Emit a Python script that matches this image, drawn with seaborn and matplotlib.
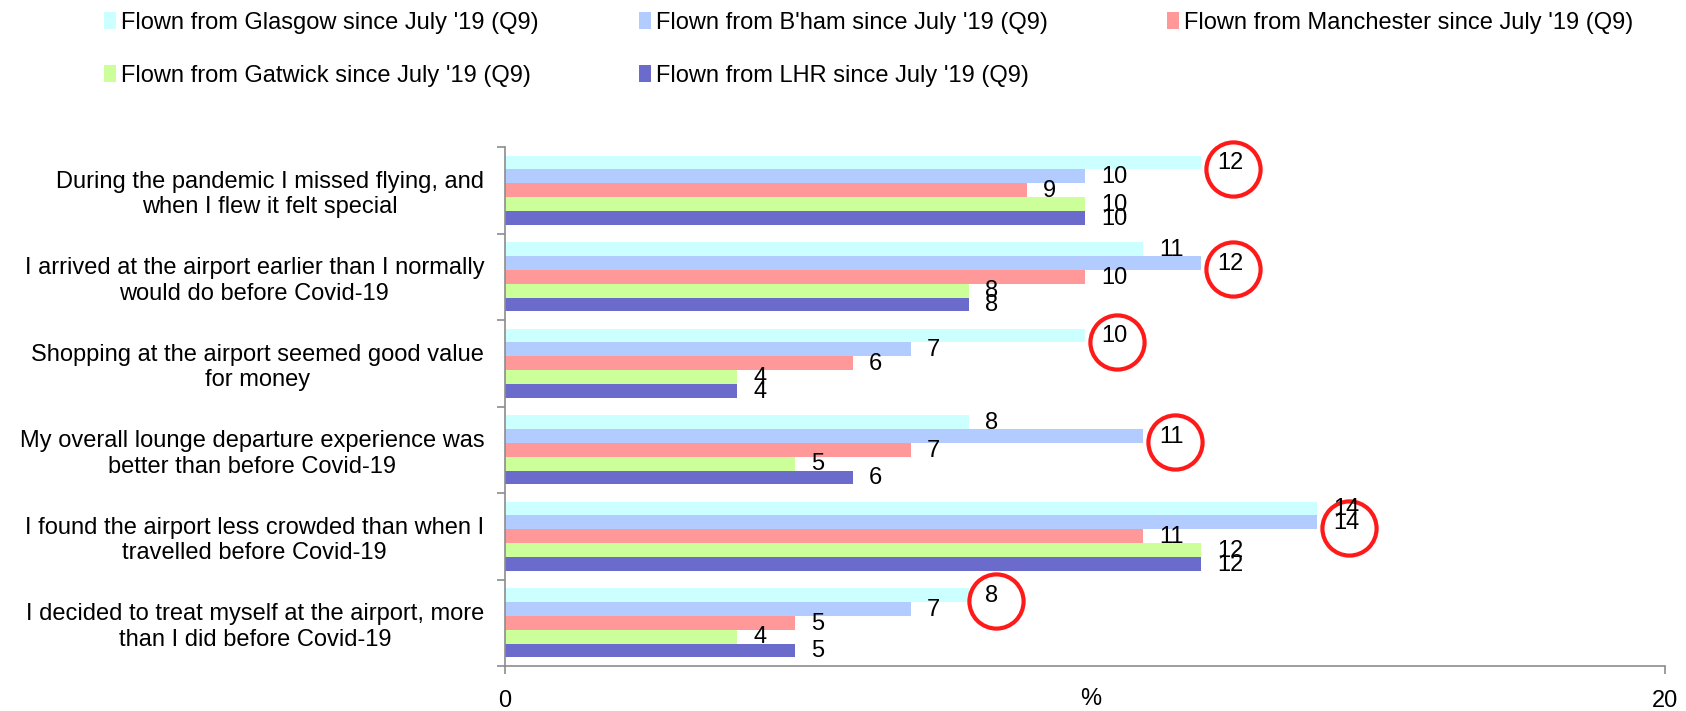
import matplotlib
matplotlib.use("Agg")
import matplotlib.pyplot as plt
from matplotlib.patches import Patch
import seaborn as sns
import pandas as pd
import numpy as np

categories = [
    "During the pandemic I missed flying, and\nwhen I flew it felt special",
    "I arrived at the airport earlier than I normally\nwould do before Covid-19",
    "Shopping at the airport seemed good value\nfor money",
    "My overall lounge departure experience was\nbetter than before Covid-19",
    "I found the airport less crowded than when I\ntravelled before Covid-19",
    "I decided to treat myself at the airport, more\nthan I did before Covid-19",
]
series = [
    "Flown from Glasgow since July '19 (Q9)",
    "Flown from B'ham since July '19 (Q9)",
    "Flown from Manchester since July '19 (Q9)",
    "Flown from Gatwick since July '19 (Q9)",
    "Flown from LHR since July '19 (Q9)",
]
glasgow = [12, 11, 10, 8, 14, 8]
bham = [10, 12, 7, 11, 14, 7]
manchester = [9, 10, 6, 7, 11, 5]
gatwick = [10, 8, 4, 5, 12, 4]
lhr = [10, 8, 4, 6, 12, 5]
values = [glasgow, bham, manchester, gatwick, lhr]
# series index whose label is circled in each category
highlight = [0, 1, 0, 1, 1, 0]
x_ticks = [0, 20]

colors = ["#CCFFFF", "#B3CCFF", "#FF9999", "#CCFF99", "#6B6BCC"]

rows = []
for s, vals in zip(series, values):
    for c, v in zip(categories, vals):
        rows.append({"cat": c, "series": s, "value": v})
df = pd.DataFrame(rows)

sns.set_style("white")
plt.rcParams["font.family"] = ["Liberation Sans", "DejaVu Sans"]
plt.rcParams["text.color"] = "black"
plt.rcParams["xtick.color"] = "black"
plt.rcParams["ytick.color"] = "black"
plt.rcParams["axes.labelcolor"] = "black"

fig = plt.figure(figsize=(16.86, 7.11), dpi=100)
ax = fig.add_axes([505 / 1686, 1 - 666 / 711, 1160 / 1686, 519 / 711])

sns.barplot(data=df, y="cat", x="value", hue="series", order=categories,
            hue_order=series, palette=colors, orient="h", width=0.8,
            linewidth=0, saturation=1, ax=ax, legend=False)

ax.set_xlim(0, 20)
ax.set_ylim(len(categories) - 0.5, -0.5)

fs = 17
for si, cont in enumerate(ax.containers):
    for ci, bar in enumerate(cont):
        w = bar.get_width()
        yc = bar.get_y() + bar.get_height() / 2
        ax.text(w + 0.28, yc + 0.01, f"{w:g}", ha="left", va="center",
                fontsize=fs, color="black", clip_on=False)
        if highlight[ci] == si:
            dx = 0.55 if w >= 10 else 0.46
            ax.plot([w + dx], [yc + 0.07], marker="o", ms=39, mfc="none",
                    mec="#FF1A1A", mew=3, clip_on=False)

for sp in ["top", "right"]:
    ax.spines[sp].set_visible(False)
for sp in ["left", "bottom"]:
    ax.spines[sp].set_color("#8C8C8C")
    ax.spines[sp].set_linewidth(1.2)

bounds = np.arange(-0.5, len(categories), 1.0)
ax.set_yticks(bounds)
ax.set_yticklabels([""] * len(bounds))
ax.set_yticks(range(len(categories)), minor=True)
ax.set_yticklabels(categories, minor=True, fontsize=fs, ha="right",
                   multialignment="center")
ax.tick_params(axis="y", which="major", length=6, color="#8C8C8C", width=1.2,
               direction="out", left=True)
ax.tick_params(axis="y", which="minor", length=0, pad=15, left=True)

ax.set_xticks(x_ticks)
ax.set_xticklabels([str(t) for t in x_ticks], fontsize=fs)
ax.tick_params(axis="x", length=6, color="#8C8C8C", width=1.2, pad=11,
               direction="out", bottom=True)
ax.set_xlabel("%", fontsize=fs)
ax.xaxis.set_label_coords(0.505, -0.043)
ax.xaxis.label.set_va("top")
ax.set_ylabel("")
ax.grid(False)

handles = [Patch(facecolor=c, edgecolor="none") for c in colors]
col_layout = [([0, 3], 104), ([1, 4], 639), ([2], 1167)]
for idxs, xpx in col_layout:
    fig.legend([handles[i] for i in idxs], [series[i] for i in idxs],
               loc="upper left", bbox_to_anchor=(xpx / 1686, 1 - 12 / 711),
               frameon=False, fontsize=fs, handlelength=0.5,
               handleheight=0.7, handletextpad=0.2, labelspacing=1.3,
               borderpad=0, borderaxespad=0)

fig.savefig("out.png", dpi=100, facecolor="white")
